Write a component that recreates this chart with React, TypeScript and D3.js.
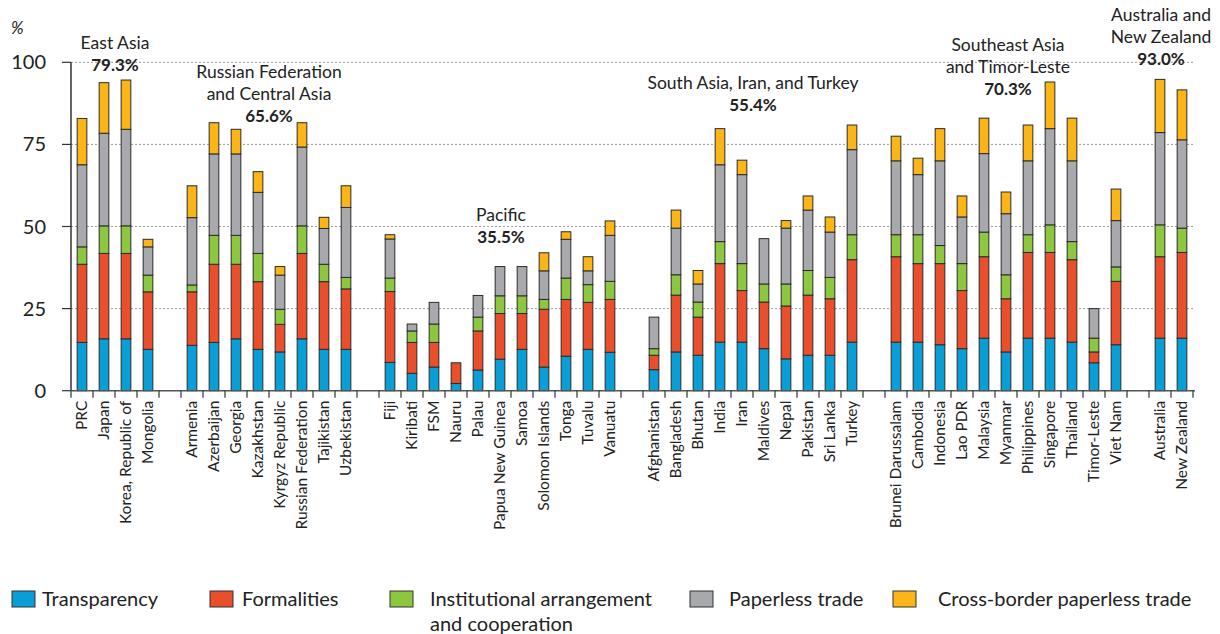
import React from "react";
import * as d3 from "d3";

const categories: string[] = [
  "PRC", "Japan", "Korea, Republic of", "Mongolia", "",
  "Armenia", "Azerbaijan", "Georgia", "Kazakhstan", "Kyrgyz Republic", "Russian Federation", "Tajikistan", "Uzbekistan", " ",
  "Fiji", "Kiribati", "FSM", "Nauru", "Palau", "Papua New Guinea", "Samoa", "Solomon Islands", "Tonga", "Tuvalu", "Vanuatu", "  ",
  "Afghanistan", "Bangladesh", "Bhutan", "India", "Iran", "Maldives", "Nepal", "Pakistan", "Sri Lanka", "Turkey", "   ",
  "Brunei Darussalam", "Cambodia", "Indonesia", "Lao PDR", "Malaysia", "Myanmar", "Philippines", "Singapore", "Thailand", "Timor-Leste", "Viet Nam", "    ",
  "Australia", "New Zealand",
];

// cumulative tops per series (null = gap slot)
const transparencyTop = [14.7, 15.8, 15.8, 12.6, null, 13.8, 14.7, 15.8, 12.6, 11.8, 15.8, 12.6, 12.6, null, 8.6, 5.3, 7.2, 2.2, 6.3, 9.6, 12.6, 7.2, 10.5, 12.6, 11.7, null, 6.4, 11.8, 10.8, 14.8, 14.8, 12.8, 9.7, 10.8, 10.8, 14.8, null, 14.8, 14.8, 14.0, 12.8, 16.0, 11.8, 16.0, 16.0, 14.8, 8.5, 14.0, null, 16.0, 16.0];
const formalitiesTop = [38.5, 41.8, 41.8, 30.1, null, 30.1, 38.5, 38.5, 33.2, 20.2, 41.8, 33.2, 31.0, null, 30.2, 14.7, 14.7, 8.5, 18.2, 23.5, 23.5, 24.8, 27.8, 26.9, 27.8, null, 10.8, 29.1, 22.4, 38.7, 30.5, 27.0, 25.8, 29.1, 28.0, 39.9, null, 40.8, 38.7, 38.7, 30.5, 40.8, 28.0, 42.1, 42.1, 39.9, 11.8, 33.3, null, 40.8, 42.1];
const institutionalTop = [43.8, 50.2, 50.2, 35.2, null, 32.2, 47.3, 47.3, 41.8, 24.8, 50.2, 38.5, 34.5, null, 34.3, 18.2, 20.3, 8.5, 22.4, 28.9, 28.9, 27.8, 34.3, 32.3, 33.3, null, 12.8, 35.3, 27.0, 45.4, 38.7, 32.5, 32.5, 36.6, 34.5, 47.5, null, 47.5, 47.5, 44.2, 38.7, 48.3, 35.3, 47.5, 50.5, 45.4, 16.0, 37.7, null, 50.5, 49.5];
const paperlessTop = [68.8, 78.4, 79.6, 43.8, null, 52.7, 72.1, 72.1, 60.4, 35.2, 74.2, 49.4, 55.8, null, 46.2, 20.3, 26.9, 8.5, 29.0, 37.8, 37.8, 36.5, 46.1, 36.5, 47.3, null, 22.4, 49.5, 32.5, 68.8, 65.8, 46.3, 49.5, 55.0, 48.3, 73.4, null, 70.0, 65.8, 70.0, 52.9, 72.2, 53.9, 70.0, 79.8, 70.0, 25.0, 51.8, null, 78.6, 76.4];
const crossBorderTop = [82.9, 93.8, 94.6, 46.1, null, 62.4, 81.6, 79.6, 66.7, 37.8, 81.6, 52.8, 62.4, null, 47.5, 20.3, 26.9, 8.5, 29.0, 37.8, 37.8, 42.0, 48.4, 40.8, 51.7, null, 22.4, 55.0, 36.6, 79.8, 70.2, 46.3, 51.8, 59.3, 52.9, 80.9, null, 77.5, 70.8, 79.8, 59.3, 83.0, 60.5, 80.9, 94.0, 83.0, 25.0, 61.4, null, 94.8, 91.6];

const seriesNames = ["Transparency", "Formalities", "Institutional arrangement|and cooperation", "Paperless trade", "Cross-border paperless trade"];
const seriesColors = ["#099fd6", "#e94f2b", "#8dc63f", "#a8a9ad", "#fbb516"];
const yTicks = [0, 25, 50, 75, 100];

const groupLabels: { lines: string[]; pct: string; cx: number; y: number }[] = [
  { lines: ["East Asia"], pct: "79.3%", cx: 115, y: 49 },
  { lines: ["Russian Federation", "and Central Asia"], pct: "65.6%", cx: 269, y: 78 },
  { lines: ["Pacific"], pct: "35.5%", cx: 501, y: 221 },
  { lines: ["South Asia, Iran, and Turkey"], pct: "55.4%", cx: 753, y: 89 },
  { lines: ["Southeast Asia", "and Timor-Leste"], pct: "70.3%", cx: 1008, y: 51 },
  { lines: ["Australia and", "New Zealand"], pct: "93.0%", cx: 1161, y: 21 },
];

const FONT = "Lato, 'Open Sans', sans-serif";

export default function App() {
  const left = 71, right = 1193, top = 62.3, bottom = 390.7;
  const x = d3.scaleBand<number>().domain(d3.range(categories.length)).range([left, right]).paddingInner(0.56).paddingOuter(0.28);
  const step = x.step();
  const y = d3.scaleLinear().domain([0, 100]).range([bottom, top]);
  const tops = [transparencyTop, formalitiesTop, institutionalTop, paperlessTop, crossBorderTop];

  const rects: React.ReactNode[] = [];
  categories.forEach((c, i) => {
    if (transparencyTop[i] == null) return;
    let prev = 0;
    tops.forEach((arr, s) => {
      const v = arr[i] as number;
      if (v > prev + 0.01) {
        rects.push(
          <rect key={`${i}-${s}`} x={x(i)!} y={y(v)} width={x.bandwidth()} height={y(prev) - y(v)}
            fill={seriesColors[s]} stroke="#2b2b2b" strokeWidth={1} />
        );
      }
      prev = Math.max(prev, v);
    });
  });

  const legendBoxX = [12, 210, 390, 690, 893];
  const legendTextX = [42, 242, 430, 729, 938];

  return (
    <svg width={1220} height={634} style={{ position: "absolute", left: 0, top: 0, background: "#fff" }} fontFamily={FONT}>
      {/* gridlines */}
      {yTicks.filter(t => t > 0).map(t => (
        <line key={t} x1={left} x2={right} y1={y(t)} y2={y(t)} stroke="#999" strokeWidth={1} strokeDasharray="2,2" />
      ))}
      {/* y ticks and labels */}
      {yTicks.map(t => (
        <g key={"yt" + t}>
          <line x1={left - 9} x2={left} y1={y(t)} y2={y(t)} stroke="#333" strokeWidth={1.2} />
          <text x={46} y={y(t) + 7} textAnchor="end" fontSize={20} fill="#222">{t}</text>
        </g>
      ))}
      <text x={11} y={34} fontSize={17} fill="#222" fontStyle="italic">%</text>
      {rects}
      {/* axes */}
      <line x1={left} x2={left} y1={top} y2={bottom} stroke="#333" strokeWidth={1.5} />
      <line x1={left} x2={right + 2} y1={bottom} y2={bottom} stroke="#555" strokeWidth={1.5} />
      {d3.range(categories.length + 1).map(k => (
        <line key={"xt" + k} x1={left + k * step} x2={left + k * step} y1={bottom} y2={bottom + 7} stroke="#333" strokeWidth={1.2} />
      ))}
      {/* category labels */}
      {categories.map((c, i) => c.trim() === "" ? null : (
        <text key={"cl" + i} transform={`translate(${x(i)! + x.bandwidth() / 2 + 5},${bottom + 10}) rotate(-90)`}
          textAnchor="end" fontSize={15.5} fill="#222">{c}</text>
      ))}
      {/* group labels */}
      {groupLabels.map((g, gi) => (
        <g key={"g" + gi}>
          {g.lines.map((l, li) => (
            <text key={li} x={g.cx} y={g.y + li * 22} textAnchor="middle" fontSize={17.5} fill="#222">{l}</text>
          ))}
          <text x={g.cx} y={g.y + g.lines.length * 22} textAnchor="middle" fontSize={17} fontWeight="bold" fill="#222">{g.pct}</text>
        </g>
      ))}
      {/* legend */}
      {seriesNames.map((n, s) => {
        const parts = n.split("|");
        return (
          <g key={"lg" + s}>
            <rect x={legendBoxX[s]} y={591} width={23} height={16} fill={seriesColors[s]} stroke="#333" strokeWidth={1} />
            {parts.map((p, pi) => (
              <text key={pi} x={legendTextX[s]} y={606 + pi * 25} fontSize={20} fill="#222">{p}</text>
            ))}
          </g>
        );
      })}
    </svg>
  );
}
